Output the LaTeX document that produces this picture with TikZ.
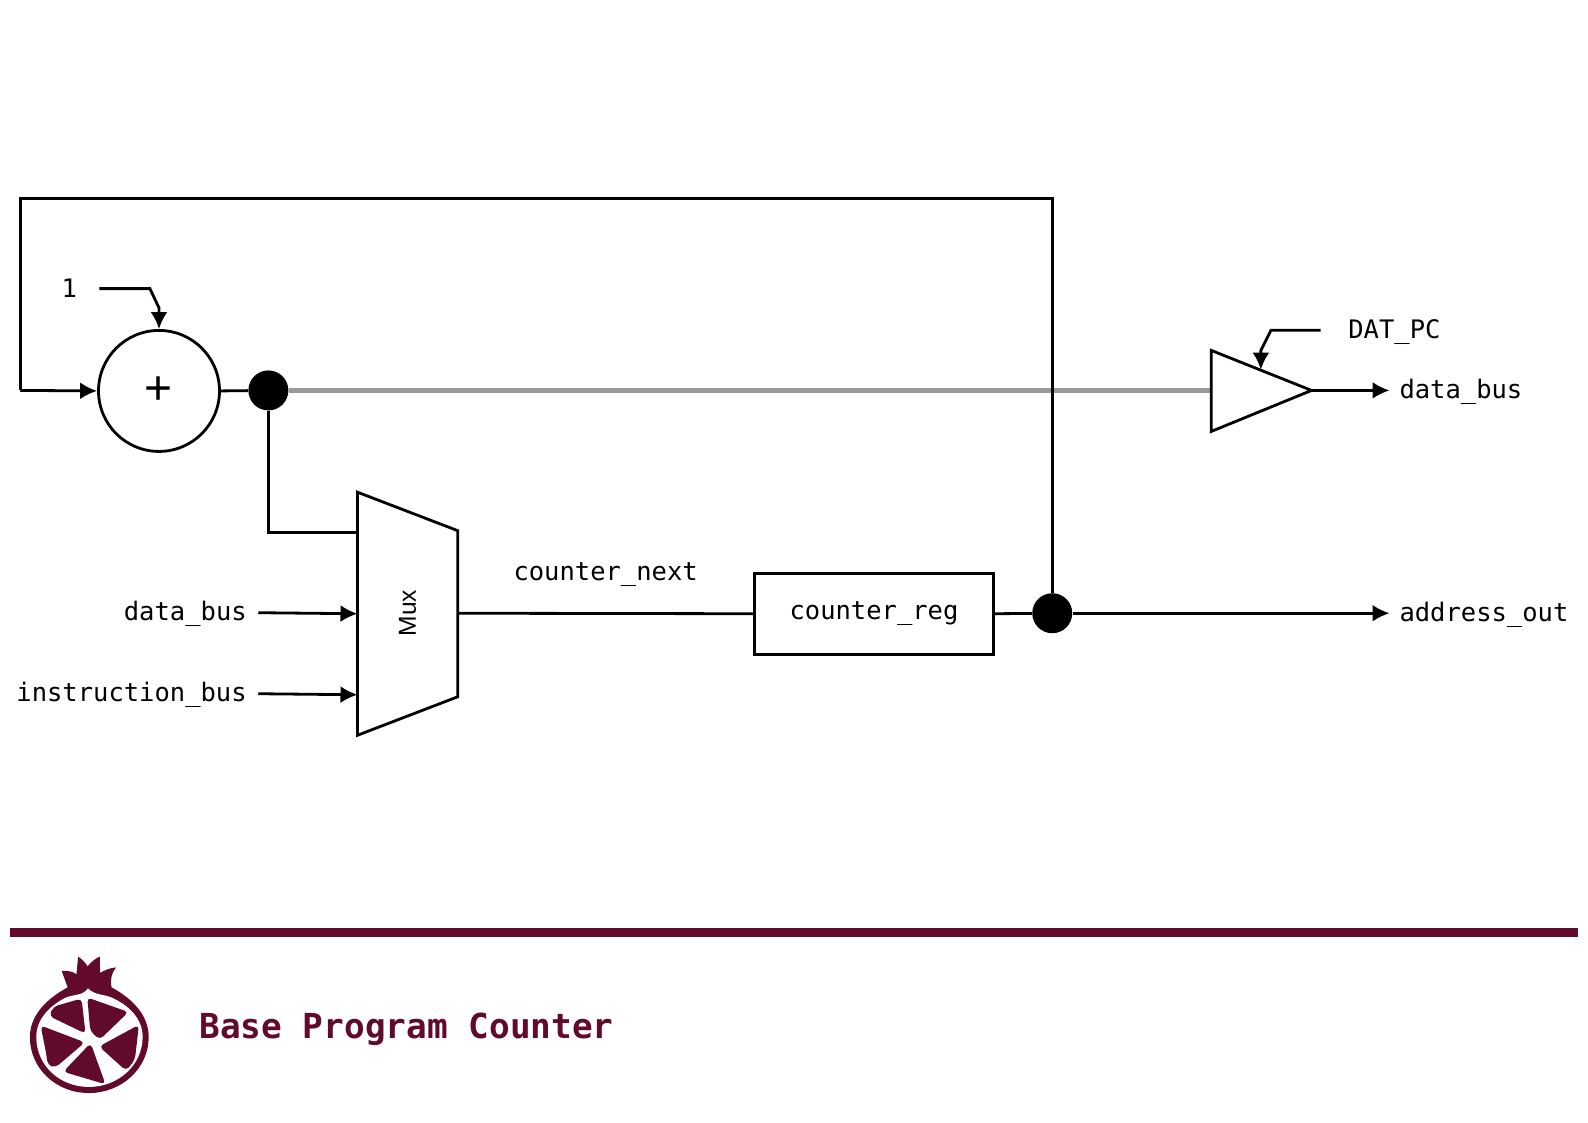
\documentclass[tikz,border=0pt]{standalone}
\usepackage{fontspec}
\setmonofont{DejaVu Sans Mono}
\setsansfont{Liberation Sans}
\usetikzlibrary{arrows.meta}
\definecolor{brand}{HTML}{610A2B}
\tikzset{
  wire/.style={draw=black,line width=1.4pt,line join=miter},
  arr/.style={wire,-{Latex[length=8.5pt,width=8.5pt]}},
  label/.style={font=\ttfamily\fontsize{12.75}{14}\selectfont,text=black,inner sep=0pt},
  dotn/.style={circle,fill=black,minimum size=20pt,inner sep=0pt},
  free/.style={inner sep=0pt,minimum size=0pt}
}
\begin{document}
\begin{tikzpicture}[x=0.5064pt,y=-0.5064pt]
\useasboundingbox (0,0) rectangle (1568,1108.8);
\fill[white] (0,0) rectangle (1568,1108.8);
% shapes
\node[wire,circle,fill=white,minimum size=60.5pt,inner sep=0pt,font=\sffamily\fontsize{24}{24}\selectfont] (add) at (157,386) {\raisebox{-1pt}{+}};
\node[dotn] (d1) at (265,385.5) {};
\node[dotn] (d2) at (1039,605.5) {};
\node[wire,rectangle,minimum width=119.5pt,minimum height=40.5pt,inner sep=0pt,label,yshift=0pt] (reg) at (863,606) {\raisebox{-1.2pt}{counter\_reg}};
\coordinate (muxA) at (353,486);
\coordinate (muxB) at (452,524);
\coordinate (muxC) at (452,688);
\coordinate (muxD) at (353,726);
\coordinate (muxIn0) at (353,525.5);
\coordinate (muxIn1) at (353,606);
\coordinate (muxIn2) at (353,686);
\coordinate (muxOut) at (452,605.5);
\coordinate (bufA) at (1196,346);
\coordinate (bufB) at (1295,385.5);
\coordinate (bufC) at (1196,426);
\coordinate (bufIn) at (1196,385.5);
\coordinate (bufTop) at (1245,365);
% connectors
\draw[wire,draw=black!40,line width=2.2pt] (d1) -- (bufIn);
\draw[wire] (d2) |- (20,196) -- (20,385.5);
\draw[arr] (20,385.5) -- (add.west);
\draw[wire] (add.east) -- (d1);
\draw[wire] (d1) |- (muxIn0);
\draw[wire] (muxOut) -- (reg.west);
\draw[wire] (reg.east) -- (d2);
\node[label,anchor=center] (one) at (68.5,284.5) {1};
\coordinate (oneS) at (98,285);
\draw[arr] (oneS) -- (148,285) -- (157,304) -- (add.north);
\coordinate (datS) at (1304,326);
\draw[arr] (datS) -- (1255,326) -- (1245,346) -- (bufTop);
\node[label,anchor=west] (dat) at (1331,327.5) {DAT\_PC};
\node[label,anchor=east] (db) at (244,606) {data\_bus};
\node[label,anchor=east] (ib) at (244,686) {instruction\_bus};
\coordinate (dbS) at (255,605);
\coordinate (ibS) at (255,685);
\draw[arr] (dbS) -- (muxIn1);
\draw[arr] (ibS) -- (muxIn2);
\node[label,anchor=west] (dbo) at (1381.5,387) {data\_bus};
\node[label,anchor=west] (ao) at (1381.5,607) {address\_out};
\coordinate (dboS) at (1372,385.5);
\coordinate (aoS) at (1372,605.5);
\draw[arr] (bufB) -- (dboS);
\draw[arr] (d2) -- (aoS);
\node[label] (cn) at (598,567.5) {counter\_next};
\draw[wire,fill=white] (muxA) -- (muxB) -- (muxC) -- (muxD) -- cycle;
\node[rotate=90,font=\sffamily\fontsize{12.3}{14}\selectfont,inner sep=0pt] (muxl) at (402.5,605.5) {Mux};
\draw[wire,fill=white] (bufA) -- (bufB) -- (bufC) -- cycle;
% footer
\fill[brand] (10,916) rectangle (1558,925);
\node[anchor=west,inner sep=0pt,text=brand,font=\ttfamily\bfseries\fontsize{17.2}{20}\selectfont] (title) at (196.5,1016) {Base Program Counter};
% logo, in 3x crop coordinates
\begin{scope}[shift={(-1.5,886.6)},x=0.5064pt/3,y=-0.5064pt/3]
\fill[brand] (205,265) -- (187,216) .. controls (205,215) and (220,218) .. (231,226) -- (236,174) .. controls (248,182) and (258,192) .. (264,203) .. controls (274,190) and (286,180) .. (300,174) -- (301,222) .. controls (315,214) and (332,207) .. (348,206) .. controls (335,222) and (330,245) .. (335,265)
 .. controls (400,300) and (445,350) .. (445,412) .. controls (445,505) and (365,578) .. (268,578) .. controls (170,578) and (93,505) .. (93,412) .. controls (93,350) and (140,300) .. (205,265) -- cycle;
\fill[white] (265,268) .. controls (285,288) and (310,285) .. (335,295) .. controls (390,320) and (427,360) .. (427,412) .. controls (427,495) and (355,560) .. (268,560) .. controls (180,560) and (112,495) .. (112,412) .. controls (112,360) and (150,320) .. (200,295) .. controls (225,285) and (250,290) .. (265,268) -- cycle;
\fill[brand,rounded corners=2.2pt] (150,350) -- (163,322) -- (246,298) -- (258,402) -- cycle;
\fill[brand,rounded corners=2.2pt] (263,295) -- (385,338) -- (300,420) -- (272,395) -- cycle;
\fill[brand,rounded corners=2.2pt] (125,378) -- (256,428) -- (168,503) -- (146,495) -- (142,465) -- cycle;
\fill[brand,rounded corners=2.2pt] (273,430) -- (317,552) -- (192,515) -- cycle;
\fill[brand,rounded corners=2.2pt] (416,376) -- (404,480) -- (378,512) -- (298,440) -- cycle;
\end{scope}
\end{tikzpicture}
\end{document}
